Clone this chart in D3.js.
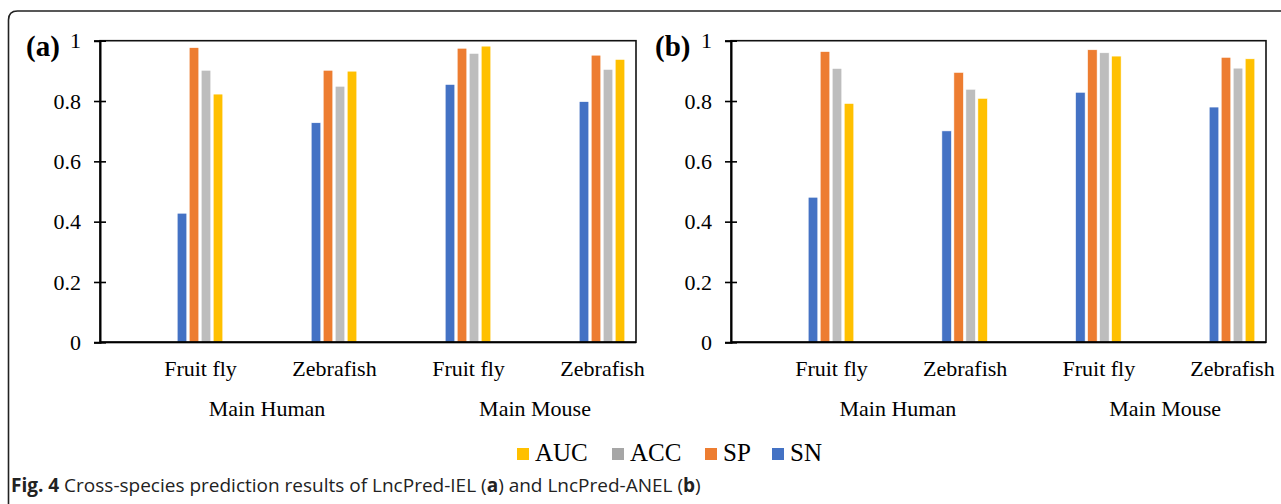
<!DOCTYPE html>
<html>
<head>
<meta charset="utf-8">
<script src="https://cdn.jsdelivr.net/npm/d3@7"></script>
<style>
  html, body { margin: 0; padding: 0; background: #fff; }
  svg { display: block; }
</style>
</head>
<body>
<svg id="chart" width="1281" height="504"></svg>
<script>
// ---- data ----
const categories = ["Fruit fly", "Zebrafish", "Fruit fly ", "Zebrafish "];
const categoryLabels = ["Fruit fly", "Zebrafish", "Fruit fly", "Zebrafish"];
const groupLabels = ["Main Human", "Main Mouse"];
const series = ["SN", "SP", "ACC", "AUC"];
const legendOrder = ["AUC", "ACC", "SP", "SN"];
const yTicks = [0, 0.2, 0.4, 0.6, 0.8, 1];

// panel (a) LncPred-IEL
const a_SN  = [0.428, 0.728, 0.855, 0.798];
const a_SP  = [0.977, 0.902, 0.975, 0.952];
const a_ACC = [0.902, 0.849, 0.958, 0.905];
const a_AUC = [0.823, 0.899, 0.982, 0.938];

// panel (b) LncPred-ANEL
const b_SN  = [0.481, 0.701, 0.829, 0.780];
const b_SP  = [0.964, 0.895, 0.970, 0.945];
const b_ACC = [0.908, 0.839, 0.960, 0.909];
const b_AUC = [0.792, 0.809, 0.949, 0.940];

const panelLetters = ["(a)", "(b)"];
const caption = { bold: "Fig. 4", rest: " Cross-species prediction results of LncPred-IEL (", a: "a", mid: ") and LncPred-ANEL (", b: "b", end: ")" };

// ---- styles ----
const barColors = { SN: "#4472C4", SP: "#ED7D31", ACC: "#BDBDBD", AUC: "#FFC000" };
const legendColors = { SN: "#4472C4", SP: "#ED7D31", ACC: "#A6A6A6", AUC: "#FFC000" };
const serif = "'Liberation Serif', 'Times New Roman', serif";

const svg = d3.select("#chart");

// outer figure box (top and left visible)
svg.append("path")
  .attr("d", "M8.5,504 L8.5,20 Q8.5,11 17.5,11 L1281,11")
  .attr("fill", "none").attr("stroke", "#222").attr("stroke-width", 1.6);

const panels = [
  { left: 100, right: 636, data: { SN: a_SN, SP: a_SP, ACC: a_ACC, AUC: a_AUC }, letter: panelLetters[0], letterX: 26 },
  { left: 731, right: 1266, data: { SN: b_SN, SP: b_SP, ACC: b_ACC, AUC: b_AUC }, letter: panelLetters[1], letterX: 655 }
];
const plotTop = 40.7, plotBottom = 342.3;

panels.forEach(p => {
  const g = svg.append("g");
  const y = d3.scaleLinear().domain([0, 1]).range([plotBottom, plotTop]);
  const x = d3.scalePoint().domain(categories).range([p.left + 100, p.right - 34]);
  const xs = d3.scaleBand().domain(series).range([-22.8, 22.8]).paddingInner(0.2);

  // bars
  series.forEach(s => {
    g.selectAll(null)
      .data(categories.map((c, i) => ({ c, v: p.data[s][i] })))
      .enter().append("rect")
      .attr("x", d => x(d.c) + xs(s))
      .attr("width", xs.bandwidth())
      .attr("y", d => y(d.v))
      .attr("height", d => y(0) - y(d.v))
      .attr("fill", barColors[s])
      .attr("stroke", "#fff").attr("stroke-width", 0.6);
  });

  // plot frame
  g.append("rect")
    .attr("x", p.left).attr("y", plotTop)
    .attr("width", p.right - p.left).attr("height", plotBottom - plotTop)
    .attr("fill", "none").attr("stroke", "#111").attr("stroke-width", 1.6);

  // y axis
  const ya = g.append("g").attr("transform", `translate(${p.left},0)`)
    .call(d3.axisLeft(y).tickValues(yTicks).tickFormat(d3.format("~g")).tickSize(6).tickPadding(13));
  ya.select(".domain").attr("stroke", "#000").attr("stroke-width", 2);
  ya.selectAll(".tick line").attr("x1", 6).attr("x2", -6).attr("stroke", "#000").attr("stroke-width", 1.6);
  ya.selectAll(".tick text").attr("font-family", serif).attr("font-size", 22).attr("fill", "#000");

  // x axis (bottom)
  const xa = g.append("g").attr("transform", `translate(0,${plotBottom})`)
    .call(d3.axisBottom(x).tickSize(0).tickPadding(0).tickFormat((d, i) => categoryLabels[i]));
  xa.select(".domain").attr("d", `M${p.left},0H${p.right}`).attr("stroke", "#000").attr("stroke-width", 2);
  xa.selectAll(".tick text").attr("font-family", serif).attr("font-size", 22).attr("fill", "#000")
    .attr("dy", null).attr("y", 34);

  // group labels
  groupLabels.forEach((lab, i) => {
    const cx = (x(categories[2 * i]) + x(categories[2 * i + 1])) / 2;
    g.append("text").attr("x", cx).attr("y", 416).attr("text-anchor", "middle")
      .attr("font-family", serif).attr("font-size", 22).text(lab);
  });

  // panel letter
  g.append("text").attr("x", p.letterX).attr("y", 56)
    .attr("font-family", serif).attr("font-size", 29).attr("font-weight", "bold").text(p.letter);
});

// legend
const legendX = [517, 612, 705, 772];
const lg = svg.append("g");
legendOrder.forEach((s, i) => {
  lg.append("rect").attr("x", legendX[i]).attr("y", 448).attr("width", 12).attr("height", 12)
    .attr("fill", legendColors[s]);
  lg.append("text").attr("x", legendX[i] + 18).attr("y", 461)
    .attr("font-family", serif).attr("font-size", 25).text(s);
});

// caption
const cap = svg.append("text").attr("x", 11).attr("y", 492)
  .attr("font-family", "'Open Sans', 'Noto Sans', sans-serif").attr("font-size", 19).attr("fill", "#222");
cap.append("tspan").attr("font-weight", "bold").text(caption.bold);
cap.append("tspan").text(caption.rest);
cap.append("tspan").attr("font-weight", "bold").text(caption.a);
cap.append("tspan").text(caption.mid);
cap.append("tspan").attr("font-weight", "bold").text(caption.b);
cap.append("tspan").text(caption.end);
</script>
</body>
</html>
